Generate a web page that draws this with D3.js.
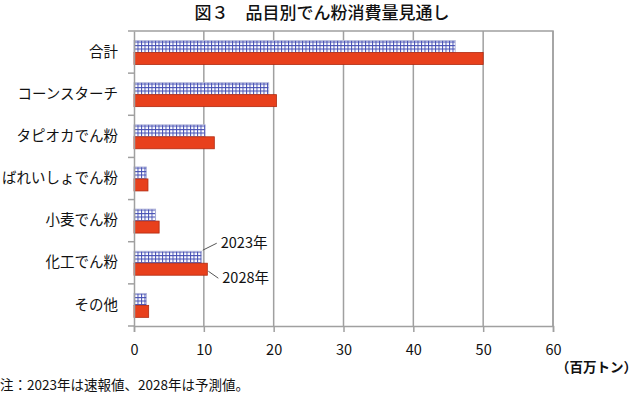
<!DOCTYPE html>
<html>
<head>
<meta charset="utf-8" />
<script src="https://d3js.org/d3.v7.min.js"></script>
<style>
body { margin: 0; background: #fff; }
svg text { font-family: "Noto Sans CJK JP", "Noto Sans", sans-serif; fill: #111; }
.grid line { stroke: #a0a0a0; stroke-width: 1.5px; }
</style>
</head>
<body>
<script>
// data
var categories = ["合計", "コーンスターチ", "タピオカでん粉", "ばれいしょでん粉", "小麦でん粉", "化工でん粉", "その他"];
var values2023 = [46.0, 19.3, 10.2, 1.8, 3.1, 9.7, 1.8];
var values2028 = [50.0, 20.4, 11.5, 2.0, 3.6, 10.5, 2.1];
var xTicks = [0, 10, 20, 30, 40, 50, 60];

var width = 640, height = 396;
var margin = {top: 31, right: 87, bottom: 70, left: 134};
var plotW = width - margin.left - margin.right,
    plotH = height - margin.top - margin.bottom;

var svg = d3.select("body").append("svg")
    .attr("width", width)
    .attr("height", height);

// crosshatch pattern for 2023
var pat = svg.append("defs").append("pattern")
    .attr("id", "hatch")
    .attr("patternUnits", "userSpaceOnUse")
    .attr("width", 3.5).attr("height", 3.5);
pat.append("rect").attr("width", 3.5).attr("height", 3.5).attr("fill", "#fff");
pat.append("path").attr("d", "M0,0.5H3.5M0.5,0V3.5")
    .attr("stroke", "#4650b4").attr("stroke-width", 1);

svg.append("text")
    .attr("x", 322).attr("y", 13)
    .attr("dy", "0.35em")
    .attr("text-anchor", "middle")
    .style("font-size", "17px")
    .style("font-weight", "500")
    .text("図３　品目別でん粉消費量見通し");

var x = d3.scaleLinear().domain([0, 60]).range([0, plotW]);
var y = d3.scaleBand().domain(categories).range([0, plotH]);

var g = svg.append("g")
    .attr("transform", "translate(" + margin.left + "," + margin.top + ")");

// vertical grid
g.append("g").attr("class", "grid")
  .selectAll("line")
    .data(xTicks.slice(1))
  .enter().append("line")
    .attr("x1", function(d) { return x(d); })
    .attr("x2", function(d) { return x(d); })
    .attr("y1", 0).attr("y2", plotH);

// frame top/right
g.append("path")
    .attr("d", "M0,0H" + plotW + "V" + plotH)
    .attr("fill", "none").attr("stroke", "#a0a0a0").attr("stroke-width", 1.5);

var barH = 12, offset = 9.5;

g.selectAll(".b23")
    .data(categories)
  .enter().append("rect")
    .attr("x", 0)
    .attr("y", function(d) { return y(d) + offset; })
    .attr("width", function(d, i) { return x(values2023[i]); })
    .attr("height", barH)
    .attr("fill", "url(#hatch)")
    .attr("stroke", "#b0b4d8").attr("stroke-width", 0.8);

g.selectAll(".b28")
    .data(categories)
  .enter().append("rect")
    .attr("x", 0)
    .attr("y", function(d) { return y(d) + offset + barH; })
    .attr("width", function(d, i) { return x(values2028[i]); })
    .attr("height", barH)
    .attr("fill", "#e8401c")
    .attr("stroke", "#b02a10").attr("stroke-width", 0.8);

// left axis
var yAxis = g.append("g")
    .call(d3.axisLeft(y).tickSize(0).tickPadding(16));
yAxis.select(".domain").attr("stroke", "#a0a0a0").attr("stroke-width", 1.5);
yAxis.selectAll("text").style("font-size", "14.5px");
// category separators ticks
g.append("g").selectAll("line")
    .data(d3.range(categories.length + 1))
  .enter().append("line")
    .attr("x1", -6).attr("x2", 0)
    .attr("y1", function(d) { return d * y.step(); })
    .attr("y2", function(d) { return d * y.step(); })
    .attr("stroke", "#a0a0a0").attr("stroke-width", 1.5);

// bottom axis
var xAxis = g.append("g")
    .attr("transform", "translate(0," + plotH + ")")
    .call(d3.axisBottom(x).tickValues(xTicks).tickSize(6).tickPadding(13));
xAxis.selectAll("line, .domain").attr("stroke", "#a0a0a0").attr("stroke-width", 1.5);
xAxis.selectAll("text").style("font-size", "14.5px");

svg.append("text")
    .attr("x", 637).attr("y", 372)
    .attr("text-anchor", "end")
    .style("font-size", "13.5px")
    .style("font-weight", "bold")
    .text("（百万トン）");

svg.append("text")
    .attr("x", 0).attr("y", 390)
    .style("font-size", "13.5px")
    .text("注：2023年は速報値、2028年は予測値。");

// series annotations at 化工でん粉
var ci = categories.indexOf("化工でん粉");
var top23 = y(categories[ci]) + offset;
var ann = [
  {label: "2023年", v: values2023[ci], y1: top23 - 1, y2: top23 - 8, len: 14},
  {label: "2028年", v: values2028[ci], y1: top23 + barH * 2 - 4, y2: top23 + barH * 2 + 3, len: 10}
];
ann.forEach(function(a) {
  var x0 = x(a.v) + 1, x1 = x0 + a.len;
  g.append("line")
    .attr("x1", x0).attr("y1", a.y1)
    .attr("x2", x1).attr("y2", a.y2)
    .attr("stroke", "#555").attr("stroke-width", 1);
  g.append("text")
    .attr("x", x1 + 4).attr("y", a.y2)
    .attr("dy", "0.35em")
    .style("font-size", "14.5px")
    .text(a.label);
});
</script>
</body>
</html>
